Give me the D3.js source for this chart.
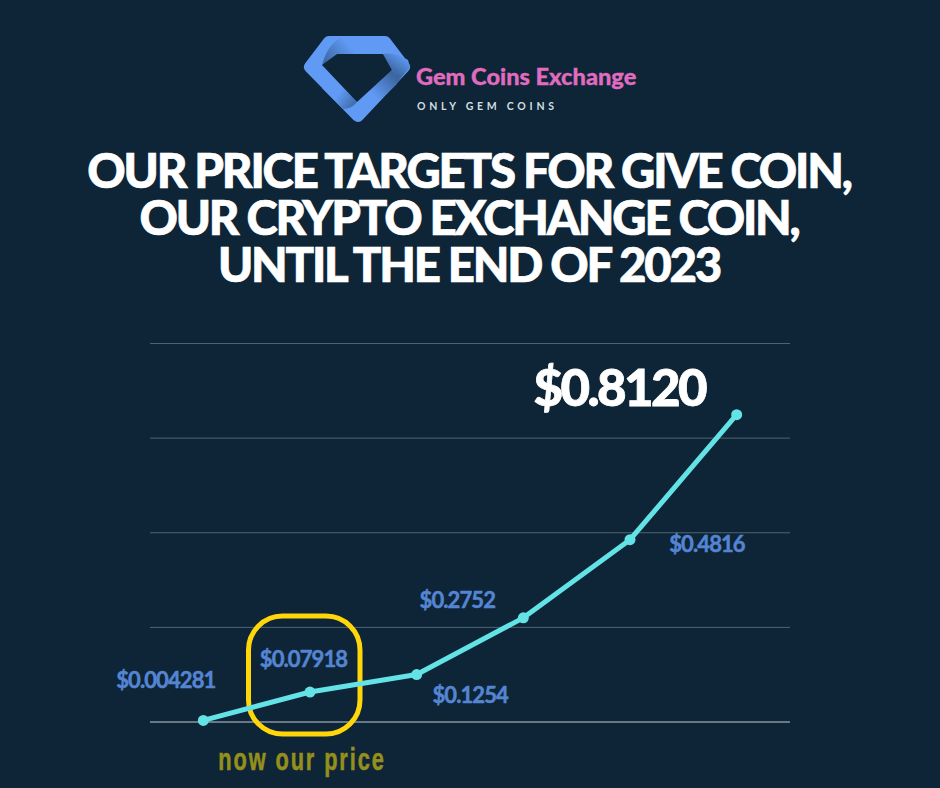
<!DOCTYPE html>
<html>
<head>
<meta charset="utf-8">
<script src="https://d3js.org/d3.v7.min.js"></script>
<style>
  html, body { margin: 0; padding: 0; background: #0d2537; }
  svg { display: block; }
</style>
</head>
<body>
<div id="chart"></div>
<script>
// values
var steps = ["p1", "p2", "p3", "p4", "p5", "p6"];
var prices = [0.004281, 0.07918, 0.1254, 0.2752, 0.4816, 0.8120];
var priceLabels = ["$0.004281", "$0.07918", "$0.1254", "$0.2752", "$0.4816", "$0.8120"];
var gridTicks = [0, 0.25, 0.5, 0.75, 1];
var titleLines = ["OUR PRICE TARGETS FOR GIVE COIN,", "OUR CRYPTO EXCHANGE COIN,", "UNTIL THE END OF 2023"];

var bg = "#0d2537";
var width = 940,
    height = 788,
    margin = {top: 343.5, right: 150, bottom: 66, left: 150};

var svg = d3.select("#chart").append("svg")
    .attr("width", width)
    .attr("height", height);

var xScale = d3.scaleBand()
    .domain(steps)
    .range([margin.left, width - margin.right]);
var yScale = d3.scaleLinear()
    .domain([0, 1])
    .range([height - margin.bottom, margin.top]);
var xOf = function(d, i) { return xScale(steps[i]) + xScale.bandwidth() / 2; };

// logo: rounded gem with four shaded folds
var defs = svg.append("defs");
function fold(id, x1, y1, x2, y2, d) {
  var g = defs.append("linearGradient").attr("id", id)
      .attr("gradientUnits", "userSpaceOnUse")
      .attr("x1", x1).attr("y1", y1).attr("x2", x2).attr("y2", y2);
  g.append("stop").attr("offset", 0).attr("stop-color", "#3b669f");
  g.append("stop").attr("offset", 1).attr("stop-color", "#609af5");
  logo.append("path").attr("d", d).attr("fill", "url(#" + id + ")");
}

var logo = svg.append("g");
logo.append("path")
    .attr("d", "M329 42 L385 42 L404 67 L358 116 L310 67 Z")
    .attr("fill", "#609af5")
    .attr("stroke", "#609af5")
    .attr("stroke-width", 12)
    .attr("stroke-linejoin", "round");
fold("foldTop", 326, 66, 350, 46, "M322 66 Q326 46 342 36.5 L372 36.5 L383 54 L337 54 Z");
fold("foldRight", 392, 72, 404, 56, "M383 54 Q395 52 408 60 L410 67 L396 84 Q396 72 392 70 Z");
fold("foldLeft", 358, 104, 340, 92, "M357 102 L334 78 L322 88 L343 109 Q352 109 357 102 Z");
fold("foldBottom", 392, 74, 372, 94, "M392 70 L366 94 L376 104 L397 84 Q397 74 392 70 Z");
logo.append("path")
    .attr("d", "M337 54 L322 65 L357 102 L392 70 L383 54 Z")
    .attr("fill", bg);

svg.append("text")
    .attr("x", 416)
    .attr("y", 85)
    .attr("font-family", "Lato")
    .attr("font-weight", 900)
    .attr("font-size", 23.6)
    .attr("stroke", "#e06cc0")
    .attr("stroke-width", 0.3)
    .attr("fill", "#e06cc0")
    .text("Gem Coins Exchange");

svg.append("text")
    .attr("x", 417)
    .attr("y", 110)
    .attr("font-family", "Lato")
    .attr("font-weight", 700)
    .attr("font-size", 10.5)
    .attr("letter-spacing", 3.75)
    .attr("fill", "#d3dde2")
    .text("ONLY GEM COINS");

// title
svg.append("g").selectAll("text")
    .data(titleLines)
  .enter().append("text")
    .attr("x", 469)
    .attr("y", function(d, i) { return 188 + i * 47; })
    .attr("text-anchor", "middle")
    .attr("font-family", "Lato")
    .attr("font-weight", 900)
    .attr("font-size", 47.4)
    .attr("letter-spacing", -2.2)
    .attr("stroke", "#ffffff")
    .attr("stroke-width", 0.7)
    .attr("fill", "#ffffff")
    .text(function(d) { return d; });

// grid
svg.append("g").selectAll("line")
    .data(gridTicks)
  .enter().append("line")
    .attr("x1", margin.left)
    .attr("x2", width - margin.right)
    .attr("y1", function(d) { return yScale(d); })
    .attr("y2", function(d) { return yScale(d); })
    .attr("stroke", function(d) { return d === 0 ? "#c4ccd2" : "#4f6473"; })
    .attr("stroke-width", 1);

// highlight box round the current price
var nowX = xOf(null, 1),
    nowY = yScale(prices[1]);
svg.append("rect")
    .attr("x", nowX - 61.5)
    .attr("y", nowY - 76)
    .attr("width", 111.5)
    .attr("height", 118)
    .attr("rx", 34)
    .attr("fill", "none")
    .attr("stroke", "#ffd60a")
    .attr("stroke-width", 5);

// line and points
var line = d3.line()
    .x(xOf)
    .y(function(d) { return yScale(d); });

svg.append("path")
    .datum(prices)
    .attr("d", line)
    .attr("fill", "none")
    .attr("stroke", "#63e3e6")
    .attr("stroke-width", 5)
    .attr("stroke-linejoin", "round");

svg.append("g").selectAll("circle")
    .data(prices)
  .enter().append("circle")
    .attr("cx", xOf)
    .attr("cy", function(d) { return yScale(d); })
    .attr("r", 5.5)
    .attr("fill", "#63e3e6");

// price labels, last one is the big white target
var labelDx = [-37.5, -6.5, 53.5, -66, 77, -117.5];
var labelDy = [-32, -25, 28.5, -10, 12, -9];
svg.append("g").selectAll("text")
    .data(prices)
  .enter().append("text")
    .attr("x", function(d, i) { return xOf(d, i) + labelDx[i]; })
    .attr("y", function(d, i) { return yScale(d) + labelDy[i]; })
    .attr("text-anchor", "middle")
    .attr("font-family", "Lato")
    .attr("font-weight", function(d, i) { return i === 5 ? 900 : 700; })
    .attr("font-size", function(d, i) { return i === 5 ? 51 : 22; })
    .attr("letter-spacing", function(d, i) { return i === 5 ? -2.6 : -0.9; })
    .attr("stroke", function(d, i) { return i === 5 ? "#ffffff" : "#5585d2"; })
    .attr("stroke-width", function(d, i) { return i === 5 ? 0.8 : 0.5; })
    .attr("fill", function(d, i) { return i === 5 ? "#ffffff" : "#5585d2"; })
    .text(function(d, i) { return priceLabels[i]; });

svg.append("text")
    .attr("transform", "translate(302,770) scale(0.68,1)")
    .attr("text-anchor", "middle")
    .attr("font-family", "Liberation Sans")
    .attr("font-weight", 700)
    .attr("font-size", 32)
    .attr("letter-spacing", 2.8)
    .attr("stroke", "#958f1c")
    .attr("stroke-width", 0.6)
    .attr("fill", "#958f1c")
    .text("now our price");
</script>
</body>
</html>
